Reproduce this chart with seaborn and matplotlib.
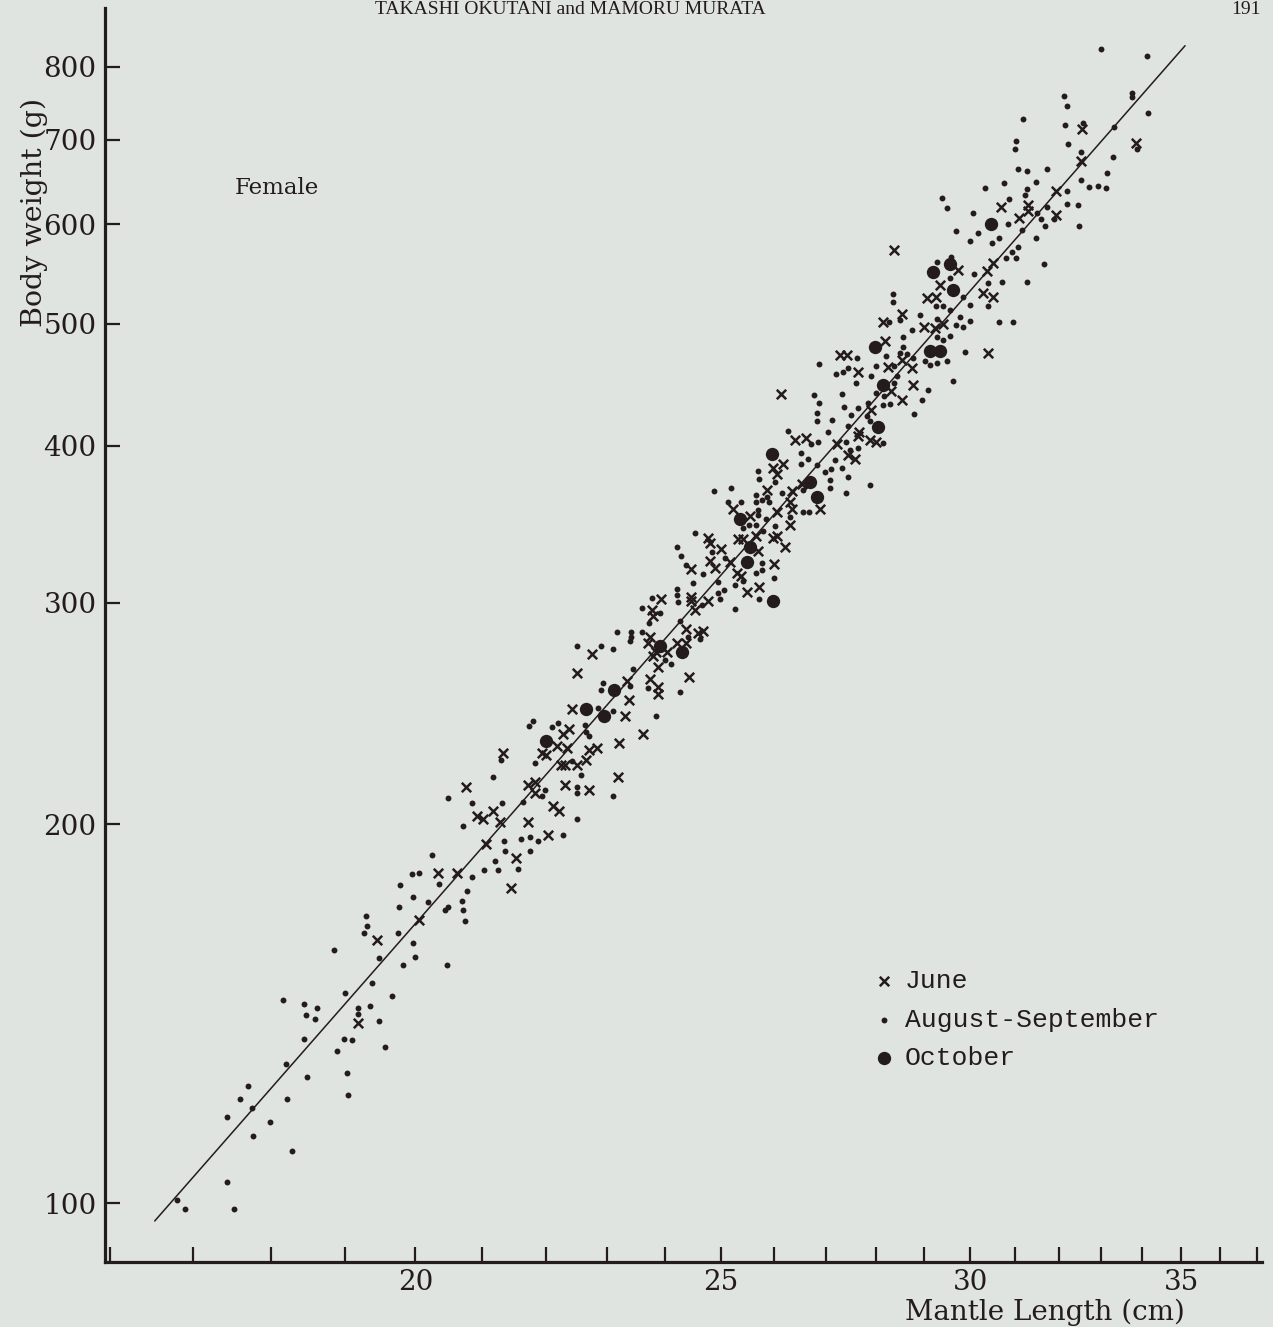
import matplotlib
matplotlib.use("Agg")
import matplotlib.pyplot as plt
import pandas as pd
import seaborn as sns
from matplotlib.ticker import FixedLocator, NullLocator, FixedFormatter, NullFormatter

# ---------------- data (mantle length cm, body weight g) ----------------
june_small = [
    (20.76, 214), (20.92, 203), (21.01, 202), (21.16, 205), (21.27, 201), (21.06, 193),
    (20.33, 183), (20.61, 183), (20.05, 168), (19.45, 162), (19.18, 139),
    (22.75, 273), (22.51, 264), (22.43, 247), (23.31, 244), (22.28, 236), (22.38, 238),
    (23.61, 236), (21.93, 228), (22.01, 227), (22.18, 231), (22.34, 230), (21.32, 228),
    (22.71, 229), (22.83, 230), (23.21, 232), (22.66, 225), (22.50, 223), (22.24, 223),
    (22.31, 223), (23.19, 218), (21.71, 215), (21.83, 216), (22.31, 215), (22.70, 213),
    (21.83, 212), (22.11, 207), (22.21, 205), (21.72, 201), (22.04, 196), (21.52, 188),
    (21.45, 178),
]
june_mid = [
    (26.39, 404), (26.60, 406), (26.17, 387), (25.98, 384), (26.04, 380), (26.52, 373),
    (26.33, 368), (25.85, 369), (26.29, 361), (25.23, 356), (26.33, 356), (26.89, 356),
    (25.54, 352), (26.04, 354), (26.29, 346), (24.77, 338), (24.80, 335), (25.32, 337),
    (25.41, 337), (25.66, 339), (25.98, 338), (26.04, 339), (25.69, 330), (26.20, 332),
    (25.00, 331), (24.80, 324), (24.89, 320), (25.17, 323), (25.99, 322), (24.47, 319),
    (25.29, 317), (25.38, 315), (25.70, 309), (25.49, 306), (24.46, 303), (24.46, 301),
    (24.77, 301), (23.93, 302), (24.53, 296), (23.78, 296), (23.79, 293), (24.38, 286),
    (24.59, 284), (24.68, 285), (23.74, 282), (23.71, 279), (24.21, 279), (24.38, 279),
    (23.85, 274), (24.03, 274), (23.80, 272), (23.88, 267), (23.35, 260), (23.74, 261),
    (24.42, 262), (23.88, 257), (23.88, 254), (23.38, 251),
]
june_large = [
    (28.37, 572), (29.74, 552), (30.36, 551), (29.34, 537), (30.29, 529), (29.06, 524),
    (29.25, 525), (28.53, 509), (29.41, 500), (28.15, 502), (29.00, 497), (29.24, 496),
    (28.19, 484), (30.40, 474), (27.27, 472), (27.41, 472), (28.53, 468), (27.64, 458),
    (28.25, 462), (28.74, 461), (28.77, 447), (28.31, 442), (26.12, 440), (28.53, 435),
    (27.91, 427), (27.66, 410), (27.64, 407), (27.21, 401), (27.88, 404), (28.00, 403),
    (27.44, 393), (27.57, 390),
    (32.56, 714), (33.86, 696), (32.54, 673), (31.95, 637), (30.68, 619), (31.30, 621),
    (31.30, 614), (31.94, 610), (31.09, 607), (30.51, 559), (30.51, 525),
]
october_pts = [
    (22.01, 233), (22.66, 247), (22.96, 244), (25.95, 394), (26.68, 374), (26.82, 364),
    (25.35, 350), (25.54, 332), (25.48, 323), (25.98, 301), (23.91, 277), (24.31, 274),
    (23.12, 256), (29.56, 558), (29.20, 550), (29.62, 532), (27.98, 479), (29.13, 476),
    (29.34, 476), (28.15, 447), (28.04, 414), (30.46, 600),
]
augsep_small = [
    (18.99, 147), (18.15, 145), (18.44, 144), (18.61, 143), (18.46, 141), (18.59, 140),
    (18.44, 135), (18.98, 135), (18.88, 132), (18.19, 129), (19.02, 127), (18.48, 126),
    (17.70, 124), (17.59, 121), (18.21, 121), (17.75, 119), (19.04, 122), (17.43, 117),
    (17.98, 116), (17.76, 113), (18.28, 110), (17.43, 104), (17.52, 99), (16.90, 99),
    (16.80, 100.5),
    (20.48, 210), (20.84, 208), (21.31, 208), (20.70, 199.5), (21.34, 194), (21.35, 190.5),
    (21.20, 187), (21.24, 184), (21.03, 184), (20.25, 189), (19.95, 182.5), (20.05, 183),
    (20.84, 181.5), (19.77, 179), (20.77, 177), (20.35, 179.5), (19.97, 175), (20.19, 173.5),
    (19.76, 172), (20.69, 174), (20.70, 171), (20.43, 171), (20.48, 172), (20.73, 167.5),
    (19.29, 169), (19.30, 166), (19.26, 164), (19.74, 164), (19.97, 161), (18.85, 159),
    (19.47, 156.7), (20.00, 157), (19.82, 154.5), (20.47, 154.5), (19.37, 149.5), (19.66, 146),
    (19.18, 143), (19.35, 143.5), (19.18, 141.5), (19.47, 139.6), (19.10, 134.7), (19.56, 133),
]
augsep_mid = [
    (22.50, 277), (22.91, 277), (22.94, 259), (22.90, 256), (22.86, 247.6), (23.10, 246),
    (23.85, 244), (21.80, 241.7), (21.73, 239.4), (22.19, 241), (22.10, 239), (22.64, 240),
    (22.65, 237), (22.71, 235), (21.29, 225), (22.43, 224.7), (21.82, 223.7), (22.58, 219),
    (21.16, 218), (22.50, 214), (22.51, 211.7), (21.99, 213), (21.93, 210.7), (23.10, 210.7),
    (21.63, 208.4), (22.50, 202), (21.61, 194.6), (21.74, 195.3), (21.88, 194), (22.28, 196),
    (21.75, 190.5), (21.55, 184.5),
    (26.71, 401), (26.85, 402.5), (26.50, 394.5), (26.51, 387), (26.65, 390), (25.69, 382),
    (25.71, 376), (26.01, 374), (26.82, 386), (26.98, 381), (26.55, 369), (26.15, 367),
    (24.88, 368), (25.18, 370), (25.66, 365.5), (25.85, 364), (25.13, 361), (25.38, 361),
    (25.66, 361), (25.76, 362), (25.90, 360.5), (26.55, 354.5), (26.67, 354.5), (25.69, 355.6),
    (25.69, 352.4), (26.29, 351), (25.66, 346), (25.52, 346), (25.84, 350), (26.01, 345),
    (25.41, 344), (24.53, 341), (25.79, 342), (24.21, 332), (24.29, 327), (24.84, 329),
    (25.07, 325.6), (25.76, 322.6), (24.37, 321.5), (24.68, 316), (25.66, 316.7), (25.76, 318.6),
    (25.99, 314), (24.50, 311), (24.95, 311.4), (25.26, 310), (25.41, 312), (25.05, 307),
    (24.95, 305.4), (24.22, 307.6), (24.22, 304.4), (24.23, 300.6), (24.98, 302), (25.71, 302),
    (23.77, 302.5), (24.66, 298.8), (25.27, 296.6), (23.60, 297.3), (23.91, 294.3), (24.27, 290),
    (23.73, 289), (24.62, 280.6), (23.17, 284.6), (23.42, 284.6), (23.42, 282), (23.60, 284.3),
    (24.40, 282), (23.11, 275.7), (23.39, 280), (24.00, 270), (24.10, 268), (23.44, 265.8),
    (23.39, 257.6), (23.70, 256.6), (24.26, 255),
]
augsep_large = [
    (29.99, 582), (29.59, 565), (29.27, 560), (30.08, 548), (29.56, 544), (30.40, 538.5),
    (28.36, 528), (28.36, 520.6), (29.85, 525), (29.99, 517.5), (29.25, 516), (29.41, 516),
    (29.56, 512.8), (30.40, 516), (28.50, 503.5), (28.92, 508), (29.27, 504.4), (29.77, 506),
    (28.28, 502), (29.99, 502.5), (29.70, 498.8), (29.85, 496.8), (28.74, 494.4), (28.57, 488),
    (29.56, 489), (29.27, 488.4), (29.41, 485.4), (28.56, 479.5), (29.88, 474.5), (27.61, 469.4),
    (28.21, 471.4), (28.50, 473.6), (28.64, 473), (28.77, 469.4), (29.02, 466.6), (29.14, 463.8),
    (29.27, 465.7), (29.49, 466.6), (26.86, 464.4), (27.44, 461), (27.33, 457.3), (27.20, 456),
    (28.00, 462.4), (28.37, 463), (27.91, 454), (28.43, 454.5), (27.60, 448.9), (29.62, 450.5),
    (28.37, 449), (29.09, 443), (26.76, 439), (27.31, 439.6), (28.00, 440.4), (28.17, 438),
    (28.97, 435), (26.86, 432.8), (27.84, 432.4), (28.15, 431), (28.29, 431.8), (27.35, 429.2),
    (27.63, 428.8), (26.83, 425), (27.49, 423), (27.81, 422.6), (28.79, 423.6), (27.11, 419.3),
    (26.83, 418.6), (27.44, 414.3), (27.88, 418.8), (27.04, 409.8), (26.25, 410.5), (27.39, 403),
    (28.15, 401.7), (27.47, 396.9), (27.64, 398), (27.18, 389.7), (27.31, 383.8), (27.10, 383),
    (27.43, 378), (27.08, 375.7), (27.08, 370.1), (27.39, 366.7), (27.88, 372.3),
    (32.13, 758.7), (33.76, 762.5), (33.77, 756.8), (32.19, 745), (31.18, 727.3), (32.15, 719.4),
    (32.57, 721.6), (34.17, 735), (33.33, 716), (31.02, 698.6), (31.00, 688.5), (32.21, 694.4),
    (33.88, 688), (32.53, 684.3), (33.29, 678.8), (31.07, 663.4), (31.26, 661.7), (31.73, 663.8),
    (33.16, 659.3), (32.52, 650.5), (30.75, 647.3), (31.47, 647.8), (32.73, 642.6), (32.93, 643.4),
    (33.13, 641.4), (30.32, 640.7), (31.27, 639.6), (31.23, 633), (32.19, 638), (29.38, 629.9),
    (30.86, 628), (29.50, 618.4), (32.19, 622.5), (32.45, 621.4), (31.72, 618.8), (30.05, 612.8),
    (31.49, 612), (30.84, 600), (31.59, 605.4), (31.89, 605.4), (31.68, 598), (32.49, 598.3),
    (29.69, 592.9), (30.16, 590.7), (31.15, 593.6), (30.49, 580), (30.64, 584.7), (31.47, 584.7),
    (31.07, 575.6), (30.92, 570.5), (30.79, 563.7), (31.02, 564.3), (31.66, 557.8), (30.70, 539.5),
    (31.28, 540), (30.64, 501.3), (30.96, 501.3), (33.02, 826.7), (34.14, 816),
]

# regression W = a * L^b drawn over the observed length range
fit_a = 0.0321
fit_b = 2.856
fit_length_range = [16.53, 35.10]

x_major_ticks = [20, 25, 30, 35]
x_minor_ticks = [16, 17, 18, 19, 21, 22, 23, 24, 26, 27, 28, 29, 31, 32, 33, 34, 36, 37]
y_ticks = [100, 200, 300, 400, 500, 600, 700, 800]
x_limits = (15.94, 37.13)
y_limits = (89.8, 891)

legend_labels = ["June", "August-September", "October"]

# ---------------- styling ----------------
paper = "#dfe4e0"
ink = "#241c1c"

sns.set_theme(style="ticks")
plt.rcParams["font.family"] = ["DejaVu Serif"]
plt.rcParams["axes.edgecolor"] = ink
plt.rcParams["text.color"] = ink

W, H = 1273, 1327
fig = plt.figure(figsize=(W / 100, H / 100), dpi=100, facecolor=paper)
ax_left, ax_right, ax_top, ax_bottom = 105, 1262, 8, 1262
ax = fig.add_axes([ax_left / W, 1 - ax_bottom / H, (ax_right - ax_left) / W, (ax_bottom - ax_top) / H])
ax.set_facecolor(paper)
ax.set_xscale("log")
ax.set_yscale("log")

def frame(pts):
    return pd.DataFrame(pts, columns=["length", "weight"])

df_june = pd.concat([frame(june_small), frame(june_mid), frame(june_large)], ignore_index=True)
df_aug = pd.concat([frame(augsep_small), frame(augsep_mid), frame(augsep_large)], ignore_index=True)
df_oct = frame(october_pts)
df_fit = pd.DataFrame({"length": fit_length_range})
df_fit["weight"] = fit_a * df_fit["length"] ** fit_b

sns.lineplot(data=df_fit, x="length", y="weight", color=ink, linewidth=1.1, ax=ax, zorder=2)
sns.scatterplot(data=df_june, x="length", y="weight", marker="x", s=46, color=ink,
                linewidth=1.8, ax=ax, label=legend_labels[0], zorder=3)
sns.scatterplot(data=df_aug, x="length", y="weight", marker="o", s=18, color=ink,
                linewidth=0, ax=ax, label=legend_labels[1], zorder=3)
sns.scatterplot(data=df_oct, x="length", y="weight", marker="o", s=92, color=ink,
                linewidth=0, ax=ax, label=legend_labels[2], zorder=4)

ax.set_xlim(*x_limits)
ax.set_ylim(*y_limits)

ax.xaxis.set_major_locator(FixedLocator(x_major_ticks))
ax.xaxis.set_major_formatter(FixedFormatter([str(t) for t in x_major_ticks]))
ax.xaxis.set_minor_locator(FixedLocator(x_minor_ticks))
ax.xaxis.set_minor_formatter(NullFormatter())
ax.yaxis.set_major_locator(FixedLocator(y_ticks))
ax.yaxis.set_major_formatter(FixedFormatter([str(t) for t in y_ticks]))
ax.yaxis.set_minor_locator(NullLocator())

ax.tick_params(axis="both", which="both", direction="in", length=11, width=1.6,
               color=ink, labelcolor=ink, labelsize=20)
ax.tick_params(axis="x", which="both", pad=5)
ax.tick_params(axis="y", which="both", pad=6)

for side in ["top", "right"]:
    ax.spines[side].set_visible(False)
for side in ["left", "bottom"]:
    ax.spines[side].set_linewidth(2.3)
    ax.spines[side].set_color(ink)

ax.set_xlabel("Mantle Length (cm)", fontsize=20, color=ink)
ax.set_ylabel("Body weight (g)", fontsize=20.5, color=ink)
ax.xaxis.set_label_coords((1045 - ax_left) / (ax_right - ax_left), -(1299 - ax_bottom) / (ax_bottom - ax_top))
ax.yaxis.set_label_coords(-(ax_left - 48) / (ax_right - ax_left), 1 - (212 - ax_top) / (ax_bottom - ax_top))

ax.text((277 - ax_left) / (ax_right - ax_left), 1 - (188 - ax_top) / (ax_bottom - ax_top), "Female",
        transform=ax.transAxes, ha="center", va="center", fontsize=16.5, color=ink)

handles, labels = ax.get_legend_handles_labels()
order = [labels.index(l) for l in legend_labels]
ax.legend([handles[i] for i in order], [labels[i] for i in order], loc="upper left",
          bbox_to_anchor=(873 / W, 1 - 969 / H), bbox_transform=fig.transFigure,
          frameon=False, borderpad=0, borderaxespad=0, handlelength=0.8, handletextpad=0.4,
          labelspacing=0.55, prop={"family": "Liberation Mono", "size": 19}, labelcolor=ink)

fig.text(570 / W, 1 - 10 / H, "TAKASHI OKUTANI and MAMORU MURATA", ha="center", va="center",
         family="Liberation Serif", fontsize=14, color=ink)
fig.text(1246 / W, 1 - 10 / H, "191", ha="center", va="center",
         family="Liberation Serif", fontsize=14, color=ink)

fig.savefig("out.png", dpi=100, facecolor=paper)
